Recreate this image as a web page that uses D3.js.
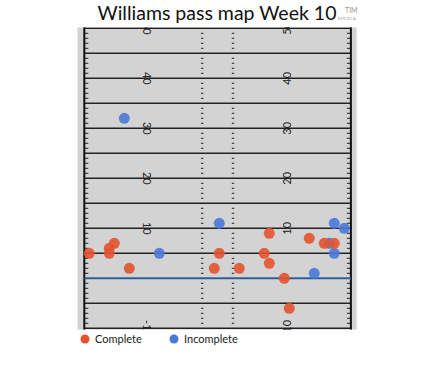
<!DOCTYPE html>
<html><head><meta charset="utf-8">
<script src="https://cdn.jsdelivr.net/npm/d3@7"></script>
<style>body{margin:0;background:#fff;}svg{display:block;font-family:Lato,"Open Sans",sans-serif;}</style>
</head><body><svg id="c" width="436" height="377"></svg>
<script>
const titleText = "Williams pass map Week 10";
const completeX = [1,5,5,6,9,26,27,31,37,36,37,40,41,45,48,50];
const completeY = [5,6,5,7,2,2,5,2,9,5,3,0,-6,8,7,7];
const incompleteX = [8,27,15,50,52,50,46,49];
const incompleteY = [32,11,5,11,10,5,1,7];
const yardLabels = [-10,10,20,30,40,50];
const legendLabels = ["Complete","Incomplete"];
const colors = {complete:"#e4532e", incomplete:"#4a78d8"};

const svg = d3.select("#c");
const x = d3.scaleLinear().domain([0,53.33]).range([84.3,350.9]);
const y = d3.scaleLinear().domain([0,50]).range([278.3,28.3]);

svg.append("text").attr("x",217).attr("y",20).attr("text-anchor","middle")
  .attr("font-size",19.5).attr("fill","#111").text(titleText);
// watermark
svg.append("text").attr("x",345).attr("y",13).attr("font-size",7).attr("fill","#999").text("TIM");
svg.append("text").attr("x",338).attr("y",19.5).attr("font-size",4.5).attr("fill","#999").attr("letter-spacing",0.8).text("MEDIA");

const fx0 = x(-1.4), fx1 = x(54.5), fy0 = y(50.2), fy1 = y(-10.3);
svg.append("defs").append("clipPath").attr("id","fc").append("rect")
  .attr("x",fx0).attr("y",fy0).attr("width",fx1-fx0).attr("height",fy1-fy0);
const g = svg.append("g").attr("clip-path","url(#fc)");
g.append("rect").attr("x",fx0).attr("y",fy0).attr("width",fx1-fx0).attr("height",fy1-fy0).attr("fill","#d3d3d3");

const yards = d3.range(-10,51);
const fives = yards.filter(v=>v%5===0 && v!==0);
const ones = yards.filter(v=>v%5!==0);
g.selectAll(".yl").data(fives).join("line")
  .attr("x1",x(0)).attr("x2",x(53.33)).attr("y1",d=>y(d)).attr("y2",d=>y(d))
  .attr("stroke","#222").attr("stroke-width",1.5);
// sideline ticks
[[0,4],[53.33,-4]].forEach(([s,dx])=>{
  g.selectAll(null).data(ones).join("line")
    .attr("x1",x(s)).attr("x2",x(s)+dx).attr("y1",d=>y(d)).attr("y2",d=>y(d))
    .attr("stroke","#222").attr("stroke-width",1);
});
[23.58,29.75].forEach(h=>{
  g.selectAll(null).data(ones).join("line")
    .attr("x1",x(h)-1.2).attr("x2",x(h)+1.2).attr("y1",d=>y(d)).attr("y2",d=>y(d))
    .attr("stroke","#222").attr("stroke-width",1);
});
// sidelines
[0,53.33].forEach(s=>{
  g.append("line").attr("x1",x(s)).attr("x2",x(s)).attr("y1",fy0).attr("y2",fy1)
    .attr("stroke","#111").attr("stroke-width",2);
});
// line of scrimmage
g.append("line").attr("x1",x(0)).attr("x2",x(53.33)).attr("y1",y(0)).attr("y2",y(0))
  .attr("stroke","#2e5f96").attr("stroke-width",2);
// yard numbers
g.selectAll(".nl").data(yardLabels).join("text")
  .attr("transform",d=>`translate(${x(12.5)},${y(d)}) rotate(90)`)
  .attr("text-anchor","middle").attr("dy","0.35em").attr("font-size",11).attr("fill","#222")
  .text(d=>d);
g.selectAll(".nr").data(yardLabels).join("text")
  .attr("transform",d=>`translate(${x(40.6)},${y(d)}) rotate(-90)`)
  .attr("text-anchor","middle").attr("dy","0.35em").attr("font-size",11).attr("fill","#222")
  .text(d=>d);
// points
g.selectAll(".inc").data(incompleteX.map((v,i)=>[v,incompleteY[i]])).join("circle")
  .attr("cx",d=>x(d[0])).attr("cy",d=>y(d[1])).attr("r",5.5)
  .attr("fill",colors.incomplete).attr("opacity",0.9);
g.selectAll(".cmp").data(completeX.map((v,i)=>[v,completeY[i]])).join("circle")
  .attr("cx",d=>x(d[0])).attr("cy",d=>y(d[1])).attr("r",5.5)
  .attr("fill",colors.complete).attr("opacity",0.9);

// legend
const leg = [[85,colors.complete,legendLabels[0]],[174,colors.incomplete,legendLabels[1]]];
leg.forEach(([lx,c,t])=>{
  svg.append("circle").attr("cx",lx).attr("cy",339).attr("r",4.5).attr("fill",c);
  svg.append("text").attr("x",lx+10).attr("y",343).attr("font-size",11).attr("fill","#222").text(t);
});
</script></body></html>
